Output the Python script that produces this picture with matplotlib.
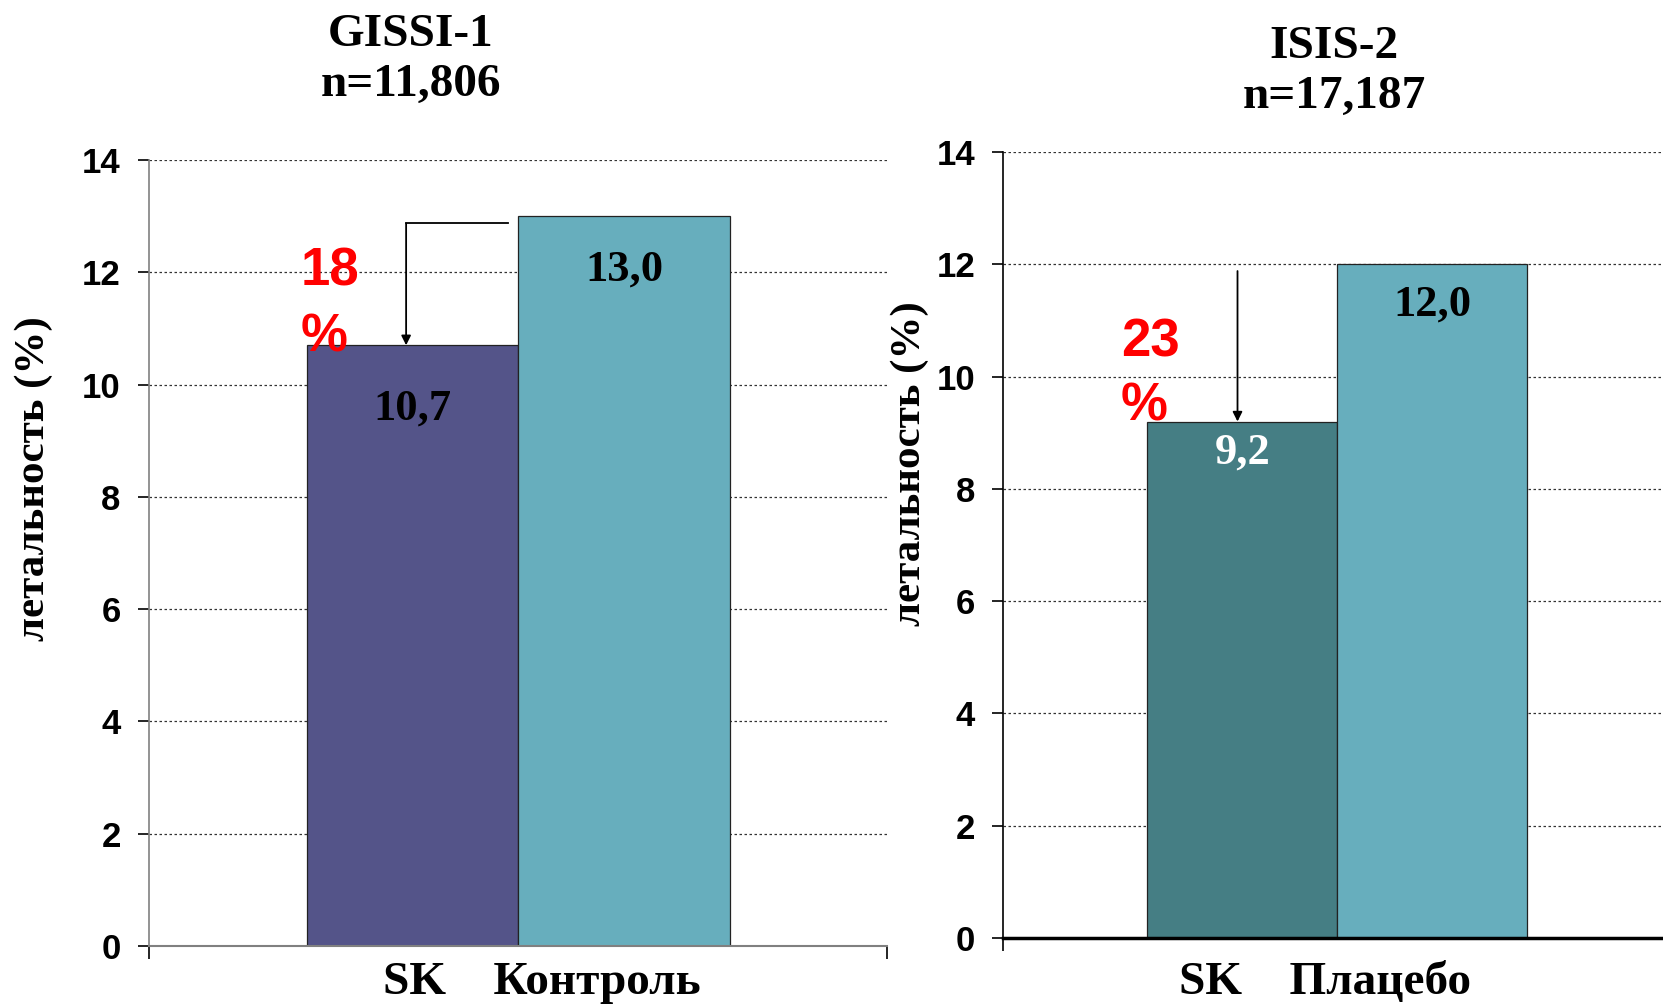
import numpy as np
import matplotlib.pyplot as plt

# mortality, %
groups_gissi = ["SK", "Контроль"]
values_gissi = [10.7, 13.0]
colors_gissi = ["#545489", "#67AEBD"]

groups_isis = ["SK", "Плацебо"]
values_isis = [9.2, 12.0]
colors_isis = ["#457E84", "#67AEBD"]

yticks = [0, 2, 4, 6, 8, 10, 12, 14]
reduction_gissi = "18\n%"
reduction_isis = "23\n%"

SERIF = ["Liberation Serif", "DejaVu Serif"]
SANS = ["Liberation Sans", "DejaVu Sans"]


def fmt(v): return f"{v:.1f}".replace(".", ",")


def setup_axes(ax, xlim, spine_color, spine_width):
    ax.set_xlim(*xlim)
    ax.set_ylim(0, 14)
    ax.set_yticks(yticks)
    ax.set_yticklabels([str(t) for t in yticks], family=SANS, fontweight="bold", fontsize=25)
    ax.set_xticks(list(xlim))
    ax.set_xticklabels(["", ""])
    ax.tick_params(axis="y", direction="out", length=8, width=1.2, pad=12)
    ax.tick_params(axis="x", direction="out", length=9, width=1.2)
    for s in ["top", "right"]:
        ax.spines[s].set_visible(False)
    ax.spines["left"].set_color(spine_color)
    ax.spines["left"].set_linewidth(1.2)
    ax.spines["bottom"].set_color(spine_color)
    ax.spines["bottom"].set_linewidth(spine_width)
    ax.grid(axis="y", linestyle=(0, (2, 2)), color="#333333", linewidth=0.9)
    ax.set_axisbelow(True)


def draw_bars(ax, values, colors, label_drop, label_colors):
    x = np.arange(len(values))
    ax.bar(x, values, width=1.0, color=colors, edgecolor="#222222", linewidth=0.9, zorder=2)
    for xi, v, c, d in zip(x, values, label_colors, label_drop):
        ax.text(xi, v - d, fmt(v), ha="center", va="center", family=SERIF,
                fontweight="bold", fontsize=32, color=c, zorder=3)


def arrow_down(ax, x, y_from, y_to):
    ax.annotate("", xy=(x, y_to), xytext=(x, y_from),
                arrowprops=dict(arrowstyle="-|>", color="black", lw=1.3,
                                mutation_scale=14, shrinkA=0, shrinkB=0), zorder=4)


fig = plt.figure(figsize=(16.63, 10.08), dpi=100)

# left: GISSI-1
ax1 = fig.add_axes([0.0893, 0.0615, 0.4441, 0.7798])
setup_axes(ax1, (-1.247, 2.242), "#808080", 1.5)
draw_bars(ax1, values_gissi, colors_gissi, [1.12, 0.96], ["black", "black"])
ax1.plot([0.45, -0.03], [12.87, 12.87], color="black", lw=1.3, zorder=4)
arrow_down(ax1, -0.03, 12.87, values_gissi[0])
ax1.text(-0.53, 12.45, reduction_gissi, ha="left", va="top", color="red", family=SANS,
         fontweight="bold", fontsize=38, linespacing=1.4)
ax1.text(-0.155, 0.594, "летальность (%)", transform=ax1.transAxes, rotation=90,
         ha="center", va="center", family=SERIF, fontweight="bold", fontsize=31)
fig.text(411 / 1663, 1 - 60 / 1008, "GISSI-1\nn=11,806", ha="center", va="center",
         family=SERIF, fontweight="bold", fontsize=34, linespacing=1.25)
fig.text(542 / 1663, 1 - 983 / 1008, groups_gissi[0] + "    " + groups_gissi[1], ha="center",
         va="center", family=SERIF, fontweight="bold", fontsize=34)

# right: ISIS-2
ax2 = fig.add_axes([0.6031, 0.0694, 0.402, 0.7798])
setup_axes(ax2, (-1.26, 2.26), "black", 2.5)
draw_bars(ax2, values_isis, colors_isis, [0.56, 0.72], ["white", "black"])
arrow_down(ax2, -0.025, 11.88, values_isis[0])
ax2.text(-0.64, 11.05, reduction_isis, ha="left", va="top", color="red", family=SANS,
         fontweight="bold", fontsize=38, linespacing=1.35)
ax2.text(-0.139, 0.604, "летальность (%)", transform=ax2.transAxes, rotation=90,
         ha="center", va="center", family=SERIF, fontweight="bold", fontsize=31)
fig.text(1334 / 1663, 1 - 72 / 1008, "ISIS-2\nn=17,187", ha="center", va="center",
         family=SERIF, fontweight="bold", fontsize=34, linespacing=1.25)
fig.text(1325 / 1663, 1 - 983 / 1008, groups_isis[0] + "    " + groups_isis[1], ha="center",
         va="center", family=SERIF, fontweight="bold", fontsize=34)

fig.savefig("out.png", dpi=100)
